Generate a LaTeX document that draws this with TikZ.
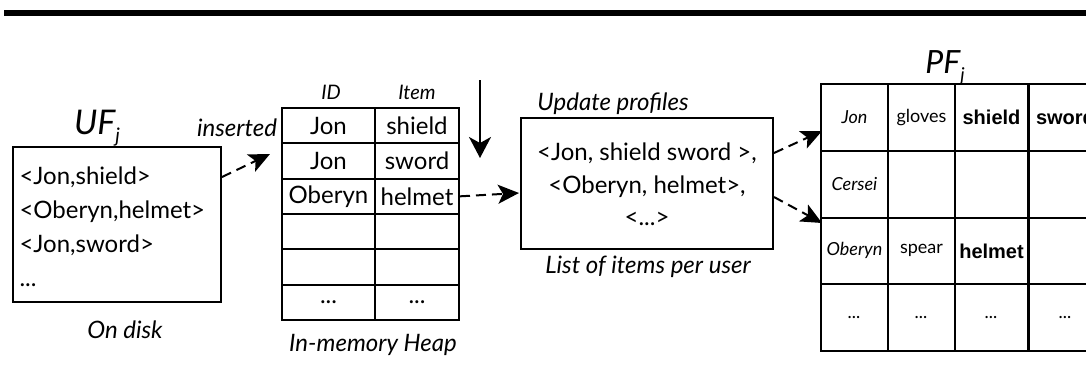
\documentclass[tikz,border=0pt]{standalone}
\usepackage{fontspec}
\setmainfont{Lato}
\newfontfamily\boldsans{Liberation Sans}
\usetikzlibrary{arrows.meta}
\newcommand{\myellip}{...}
\newcommand{\pfbold}[1]{{\fontsize{20}{22}\selectfont\boldsans\bfseries #1}}
\begin{document}
\begin{tikzpicture}[x=1pt,y=-1pt,
  box/.style={draw,line width=2pt,inner sep=0pt},
  hcell/.style={draw,line width=2pt,inner sep=0pt,minimum height=35.33pt,font=\fontsize{24}{26}\selectfont},
  pcell/.style={draw,line width=2pt,inner sep=0pt,minimum height=66.75pt,font=\fontsize{18}{20}\selectfont},
  lab/.style={font=\fontsize{24}{26}\selectfont\itshape},
  darrow/.style={dash pattern=on 10pt off 6pt,line width=2pt,-{Stealth[length=21pt,width=19pt,inset=5pt]}},
  sarrow/.style={line width=2pt,-{Stealth[length=21pt,width=22pt,inset=6pt]}}]
\useasboundingbox (0,0) rectangle (1086,386);
\fill (4,10) rectangle (1086,16);
% UF box
\node[box,minimum width=208pt,minimum height=155pt] (uf) at (117,224.5) {};
\node[anchor=base west,font=\fontsize{24}{26}\selectfont] (uf1) at (16,184) {<Jon,shield>};
\node[anchor=base west,font=\fontsize{24}{26}\selectfont] (uf2) at (16,218) {<Oberyn,helmet>};
\node[anchor=base west,font=\fontsize{24}{26}\selectfont] (uf3) at (16,252) {<Jon,sword>};
\node[anchor=base west,font=\fontsize{24}{26}\selectfont] (uf4) at (16,286) {\myellip};
\node[font=\fontsize{34}{36}\selectfont\itshape] (uflab) at (97,128) {UF\raisebox{-0.25em}{\fontsize{20}{20}\selectfont j}};
\node[lab] (disk) at (125,330) {On disk};
\node[lab] (ins) at (237,128) {inserted};
% heap
\foreach \a/\b [count=\i] in {Jon/shield,Jon/sword,Oberyn/helmet,{}/{},{}/{},\myellip/\myellip}{
  \node[hcell,minimum width=93pt] (h\i a) at (328.5,{108+35.33*(\i-0.5)}) {\a};
  \node[hcell,minimum width=84pt] (h\i b) at (417,{108+35.33*(\i-0.5)}) {\b};
}
\node[lab,font=\fontsize{20}{22}\selectfont\itshape] (idl) at (331,92) {ID};
\node[lab,font=\fontsize{20}{22}\selectfont\itshape] (iteml) at (417,92) {Item};
\node[lab] (heapl) at (373,345) {In-memory Heap};
% update box
\node[box,minimum width=252pt,minimum height=131pt] (upd) at (647,183.5) {};
\node[font=\fontsize{24}{26}\selectfont] (u1) at (647,153) {<Jon, shield sword >,};
\node[font=\fontsize{24}{26}\selectfont] (u2) at (647,187) {<Oberyn, helmet>,};
\node[font=\fontsize{24}{26}\selectfont] (u3) at (647,219) {<\myellip>};
\node[lab] (updl) at (613,104) {Update profiles};
\node[lab] (listl) at (648,267) {List of items per user};
% PF table
\node[font=\fontsize{32}{34}\selectfont\itshape] (pflab) at (945,68) {PF\raisebox{-0.25em}{\fontsize{19}{19}\selectfont j}};
\foreach \nm/\c/\d/\e [count=\i] in {{\itshape Jon}/gloves/{\pfbold{shield}}/{\pfbold{sword}},{\itshape Cersei}/{}/{}/{},{\itshape Oberyn}/spear/{\pfbold{helmet}}/{},{\itshape\myellip}/{\itshape\myellip}/{\itshape\myellip}/{\itshape\myellip}}{
  \node[pcell,minimum width=67pt] (p\i a) at (854.5,{84+66.75*(\i-0.5)}) {\nm};
  \node[pcell,minimum width=67pt] (p\i b) at (921.5,{84+66.75*(\i-0.5)}) {\c};
  \node[pcell,minimum width=73pt] (p\i c) at (991.5,{84+66.75*(\i-0.5)}) {\d};
  \node[pcell,minimum width=73pt,anchor=west] (p\i d) at (1028,{84+66.75*(\i-0.5)}) {\e};
}
% arrows
\coordinate (a1s) at (222,177);
\coordinate (a1e) at (270,154);
\draw[darrow] (a1s) -- (a1e);
\coordinate (dn1) at (480,80);
\coordinate (dn2) at (480,158);
\draw[sarrow] (dn1) -- (dn2);
\coordinate (a2e) at (519,193);
\draw[darrow] (h3b.east) -- (a2e);
\coordinate (a3s) at (774,153);
\coordinate (a3e) at (822,131);
\draw[darrow] (a3s) -- (a3e);
\coordinate (a4s) at (774,197);
\coordinate (a4e) at (822,223);
\draw[darrow] (a4s) -- (a4e);
\end{tikzpicture}
\end{document}
